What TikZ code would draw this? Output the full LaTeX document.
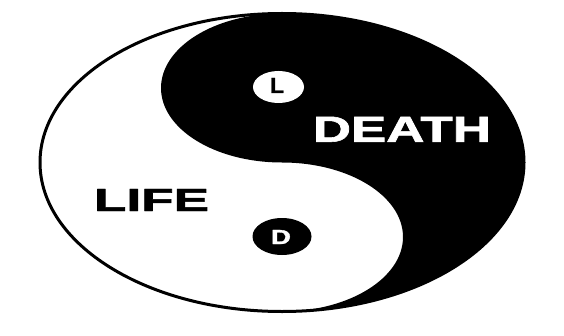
\documentclass[tikz,border=0pt]{standalone}
\usepackage{fontspec}
\setmainfont{Liberation Sans}
\newfontfamily\heavy[BoldFeatures={FakeBold=1.5}]{Liberation Sans}
\usepackage{graphicx}
\usetikzlibrary{shapes.geometric}
\begin{document}
\begin{tikzpicture}[x=1pt,y=1pt,
  dotshape/.style={ellipse, inner sep=0pt, draw=none},
  word/.style={inner sep=0pt, font=\heavy\bfseries}]
\useasboundingbox (0,0) rectangle (564,335);
\fill[white] (0,0) rectangle (564,335);
% black half with the S-curve
\fill[black] (282,321.5)
  arc[start angle=90, end angle=-90, x radius=242, y radius=149]
  arc[start angle=-90, end angle=90, x radius=121, y radius=74.5]
  arc[start angle=-90, end angle=-270, x radius=121, y radius=74.5]
  -- cycle;
% outline
\draw[line width=3pt] (282,172.5) ellipse[x radius=242, y radius=149];
% dots
\node[dotshape, fill=white, minimum width=51pt, minimum height=32pt] (ldot) at (278.5,248) {};
\node[dotshape, fill=black, minimum width=59pt, minimum height=37pt] (ddot) at (282,98.5) {};
\node[word, text=black] (ltxt) at (277,249.5) {\resizebox{14pt}{15pt}{L}};
\node[word, text=white] (dtxt) at (281,98) {\resizebox{20pt}{14pt}{D}};
% words
\node[word, text=white] (death) at (401.9,205.7) {\resizebox{178pt}{25pt}{DEATH}};
\node[word, text=black] (life) at (151.5,135) {\resizebox{115pt}{22pt}{LIFE}};
\end{tikzpicture}
\end{document}
